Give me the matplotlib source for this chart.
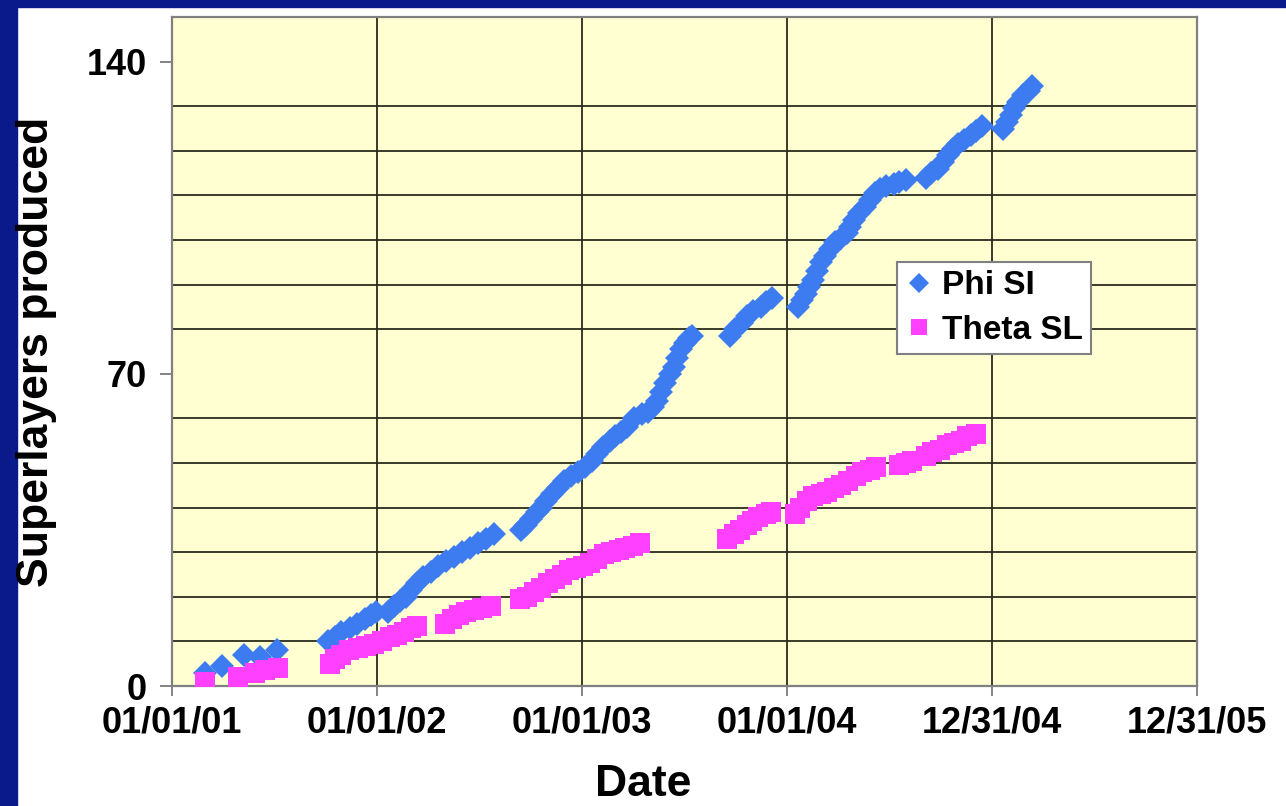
import datetime as dt
import matplotlib
matplotlib.use('Agg')
import matplotlib.pyplot as plt
import matplotlib.dates as md
from matplotlib.patches import Rectangle

# days since 01/01/01 and cumulative count
phi_day = [59, 89, 128, 157, 187,
           278, 290, 301, 317, 330, 344, 355, 363,
           385, 396, 406, 417, 426, 437, 447, 461, 474, 488, 502, 517, 531, 545, 559, 574,
           622, 631, 640, 649, 657, 666, 677, 688, 698, 711, 723, 736, 747, 757, 768, 779,
           789, 800, 811, 823, 836, 848, 857, 864, 871, 878, 886, 893, 900, 907, 914, 921, 926,
           994, 1003, 1014, 1024, 1035, 1048, 1058, 1069,
           1114, 1121, 1128, 1135, 1142, 1149, 1156, 1163, 1172, 1181, 1192, 1201, 1208, 1215,
           1224, 1233, 1242, 1251, 1261, 1272, 1285, 1295, 1306,
           1342, 1352, 1363, 1372, 1381, 1390, 1400, 1411, 1422, 1432, 1443,
           1479, 1486, 1493, 1500, 1507, 1516, 1525, 1532]
phi_count = [3, 4.5, 7, 6.5, 8,
             10, 11, 12, 13, 14, 15, 16, 16.5,
             16.5, 18, 19, 20, 21.5, 23, 24.5, 25.5, 27, 28, 29, 30, 31, 32, 33, 34,
             35, 36, 37.5, 39, 40, 41.5, 43, 44.5, 46, 47, 48, 49, 50.5, 52, 53.5, 55,
             56, 57, 58, 60, 61, 61.5, 62.5, 64, 66, 68, 70, 71.5, 73.5, 75.5, 77, 78, 78.5,
             78.5, 80, 81.5, 83, 84, 85, 86, 87,
             85, 86.5, 88, 89.5, 91, 93, 95, 96.5, 98, 99.5, 100.5, 101.5, 103, 104.5,
             106, 107.5, 109, 110.5, 111.5, 112, 112.5, 113, 113.5,
             114, 115, 116, 117.5, 119, 120.5, 121.5, 122.5, 123.5, 124.5, 125.5,
             125, 126.5, 128, 129.5, 131, 132.5, 133.5, 134.5]

theta_day = [59, 118, 148, 166, 189,
             282, 290, 301, 315, 331, 346, 360, 374, 388, 401, 413, 426, 437,
             486, 499, 511, 524, 538, 552, 568,
             620, 632, 645, 657, 670, 682, 695, 707, 720, 732, 745, 757, 770, 782, 795, 807, 821, 834,
             989, 1000, 1012, 1023, 1033, 1044, 1057, 1067,
             1110, 1119, 1130, 1142, 1155, 1167, 1179, 1192, 1204, 1217, 1229, 1242, 1254,
             1294, 1306, 1318,
             1342, 1354, 1367, 1379, 1392, 1404, 1416, 1431]
theta_count = [1, 2, 3, 3.5, 4,
               5, 6, 7, 8, 8.5, 9, 9.5, 10, 11, 11.5, 12, 13, 13.5,
               14, 15, 16, 16.5, 17, 17.5, 18,
               19.5, 20, 21, 22, 23, 24, 25, 26, 26.5, 27, 27.5, 28.5, 29.5, 30, 30.5, 31, 31.5, 32,
               33, 34, 35, 36, 37, 38, 38.5, 39,
               38.5, 40, 41.5, 42.5, 43, 43.5, 44.5, 45, 46, 47, 48, 48.5, 49,
               49.5, 50, 50.5,
               51.5, 52.5, 53, 54, 54.5, 55, 56, 56.5]

tick_dates = ['2001-01-01', '2002-01-01', '2003-01-01', '2004-01-01', '2004-12-31', '2005-12-31']
tick_labels = ['01/01/01', '01/01/02', '01/01/03', '01/01/04', '12/31/04', '12/31/05']

plt.rcParams['font.family'] = ['Liberation Sans', 'DejaVu Sans']
plt.rcParams['font.weight'] = 'bold'

start = dt.date(2001, 1, 1)
phi_x = [start + dt.timedelta(days=d) for d in phi_day]
theta_x = [start + dt.timedelta(days=d) for d in theta_day]
ticks = [dt.datetime.strptime(t, '%Y-%m-%d') for t in tick_dates]

W, H = 1286, 806
fig = plt.figure(figsize=(W / 100, H / 100), dpi=100, facecolor='white')
# dark slide border
fig.patches.append(Rectangle((0, 1 - 7 / H), 1, 7 / H, transform=fig.transFigure,
                             color='#0b1a8a', zorder=0))
fig.patches.append(Rectangle((0, 0), 17 / W, 1, transform=fig.transFigure,
                             color='#0b1a8a', zorder=0))

ax = fig.add_axes([172 / W, 1 - 686 / H, (1197 - 172) / W, (686 - 17) / H])
ax.set_facecolor('#ffffd2')

ax.plot(phi_x, phi_count, linestyle='none', marker='D', markersize=12.5,
        color='#3d7cf0', markeredgewidth=0, label='Phi SI', zorder=3)
ax.plot(theta_x, theta_count, linestyle='none', marker='s', markersize=14,
        color='#ff40ff', markeredgewidth=0, label='Theta SL', zorder=3)

ax.set_xlim(md.date2num(ticks[0]), md.date2num(ticks[-1]))
ax.set_ylim(0, 150)
ax.set_xticks(ticks)
ax.set_xticklabels(tick_labels)
ax.set_yticks([0, 70, 140])
ax.set_yticks(range(0, 151, 10), minor=True)

ax.grid(True, which='major', axis='x', color='#2b2b1c', linewidth=1.3)
ax.grid(True, which='minor', axis='y', color='#2b2b1c', linewidth=1.3)
ax.set_axisbelow(True)
ax.tick_params(axis='both', which='major', labelsize=26, width=1.2,
               color='#707070', direction='out')
ax.tick_params(axis='x', length=7, pad=7)
ax.tick_params(axis='y', length=9, pad=9)
ax.tick_params(which='minor', length=0)
for s in ax.spines.values():
    s.set_color('#808080')
    s.set_linewidth(1.6)

fig.text(37 / W, 1 - 352 / H, 'Superlayers produced', rotation=90, fontsize=32,
         fontweight='bold', ha='center', va='center')
fig.text(643 / W, 1 - 784 / H, 'Date', fontsize=32, fontweight='bold',
         ha='center', va='center')

leg = ax.legend(loc='upper left', bbox_to_anchor=(897 / W, 1 - 262 / H),
                bbox_transform=fig.transFigure, fontsize=24, frameon=True,
                fancybox=False, edgecolor='#808080', facecolor='white', framealpha=1,
                handlelength=0.8, handletextpad=0.3, labelspacing=0.4,
                borderpad=0.25, borderaxespad=0, markerscale=0.8)
leg.get_frame().set_linewidth(1.5)

fig.savefig('out.png', dpi=100, facecolor='white')
